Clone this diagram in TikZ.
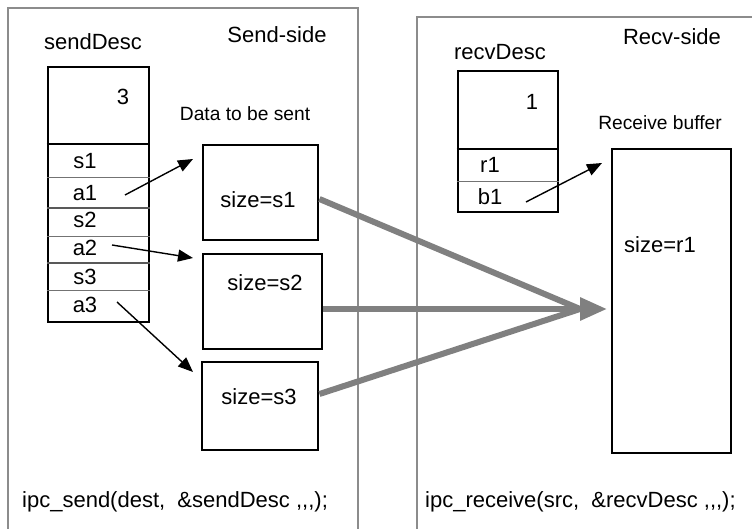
\documentclass[tikz,border=0pt]{standalone}
\usepackage{fontspec}
\setmainfont{Liberation Sans}
\usetikzlibrary{arrows.meta}
\newcommand{\cm}{,\kern0pt}% a comma that never joins its neighbour
\begin{document}
\begin{tikzpicture}[x=1pt,y=-1pt,
  txt/.style={inner sep=0pt, font=\fontsize{22}{26}\selectfont},
  smalltxt/.style={inner sep=0pt, font=\fontsize{19.2}{23}\selectfont},
  panel/.style={draw=black!45, line width=1.3pt},
  bufbox/.style={draw=black, line width=2.9pt, inner sep=0pt},
  thickdiv/.style={line width=2.7pt},
  graydiv/.style={draw=black!65, line width=2.7pt},
  thindiv/.style={draw=black!55, line width=0.9pt},
  ptr/.style={draw=black, line width=1.4pt, -{Triangle[length=15pt,width=12pt]}},
  flow/.style={draw=black!50, line width=6pt}
]
\useasboundingbox (0,0) rectangle (752,529);
\fill[white] (0,0) rectangle (752,529);

% panels (open at the bottom / right edge)
\draw[panel] (8,535) -- (8,8) -- (358,8) -- (358,535);
\draw[panel] (417,535) -- (417,17) -- (760,17);

% ---------- send side ----------
\node[txt] (sendside) at (277,35) {Send-side};
\node[txt] (sdname) at (93,42) {sendDesc};
\node[bufbox, minimum width=101, minimum height=255] (sd) at (98.5,194.5) {};
\draw[thickdiv] (sd.west |- 0,144) -- (sd.east |- 0,144);
\draw[thindiv] (sd.west |- 0,177) -- (sd.east |- 0,177);
\draw[graydiv] (sd.west |- 0,208) -- (sd.east |- 0,208);
\draw[thindiv] (sd.west |- 0,236) -- (sd.east |- 0,236);
\draw[graydiv] (sd.west |- 0,263) -- (sd.east |- 0,263);
\draw[thindiv] (sd.west |- 0,290) -- (sd.east |- 0,290);
\node[txt] (cnt3) at (123,97) {3};
\node[txt] (s1) at (85,161) {s1};
\node[txt] (a1) at (85,193) {a1};
\node[txt] (s2) at (85,220) {s2};
\node[txt] (a2) at (85,248) {a2};
\node[txt] (s3) at (85,277) {s3};
\node[txt] (a3) at (85,305) {a3};

\node[smalltxt] (datalbl) at (245,114) {Data to be sent};
\node[bufbox, minimum width=115, minimum height=95] (d1) at (260.5,192.5) {};
\node[bufbox, minimum width=119, minimum height=95] (d2) at (262.5,301.5) {};
\node[bufbox, minimum width=116, minimum height=88] (d3) at (260,406) {};
\node[txt] (d1t) at (258,200) {size=s1};
\node[txt] (d2t) at (265,283) {size=s2};
\node[txt] (d3t) at (259,397) {size=s3};

\coordinate (a1s) at (125,195); \coordinate (a1e) at (193,159);
\coordinate (a2s) at (112,245); \coordinate (a2e) at (193,258);
\coordinate (a3s) at (117,302); \coordinate (a3e) at (193,372);
\draw[ptr] (a1s) -- (a1e);
\draw[ptr] (a2s) -- (a2e);
\draw[ptr] (a3s) -- (a3e);

\node[txt, anchor=west] (sendcall) at (22,502) {ipc\_send(dest,~~\&sendDesc \cm\cm\cm);};

% ---------- receive side ----------
\node[txt] (recvside) at (672,37) {Recv-side};
\node[txt] (rdname) at (500,52) {recvDesc};
\node[bufbox, minimum width=100, minimum height=141] (rd) at (508,141.5) {};
\draw[thickdiv] (rd.west |- 0,149) -- (rd.east |- 0,149);
\draw[thindiv] (rd.west |- 0,181) -- (rd.east |- 0,181);
\node[txt] (cnt1) at (532,102) {1};
\node[txt] (r1) at (490,165) {r1};
\node[txt] (b1) at (490,197) {b1};

\node[smalltxt] (rbuflbl) at (660,123) {Receive buffer};
\node[bufbox, minimum width=119, minimum height=304] (rb) at (671.5,301) {};
\node[txt] (rbt) at (660,245) {size=r1};

\coordinate (b1s) at (526,202); \coordinate (b1e) at (602,163);
\draw[ptr] (b1s) -- (b1e);

\node[txt, anchor=west] (recvcall) at (425,502) {ipc\_receive(src,~~\&recvDesc \cm\cm\cm);};

% ---------- data flow into the receive buffer ----------
\coordinate (join) at (580,309);
\coordinate (tip) at (607,309);
\draw[flow] (d1.east |- 0,199) -- (join);
\draw[flow] (d3.east |- 0,394) -- (join);
\draw[flow, -{Triangle[length=27pt,width=22pt]}] (d2.east |- 0,309) -- (tip);
\end{tikzpicture}
\end{document}
